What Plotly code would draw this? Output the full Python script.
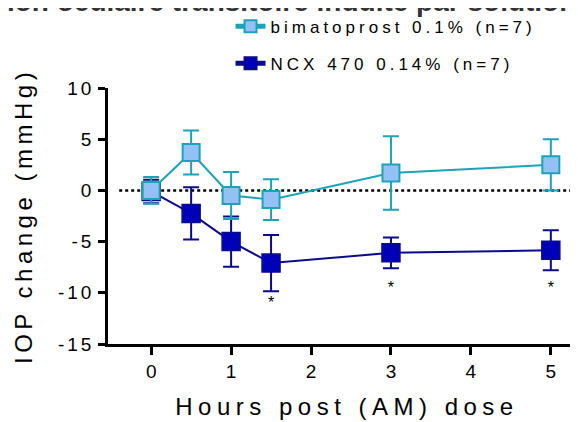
import plotly.graph_objects as go

hours = [0, 0.5, 1, 1.5, 3, 5]
bim_mean = [0.0, 3.7, -0.5, -0.9, 1.7, 2.5]
bim_err = [1.3, 2.15, 2.3, 2.0, 3.6, 2.5]
ncx_mean = [-0.1, -2.25, -5.0, -7.1, -6.1, -5.85]
ncx_err = [1.15, 2.55, 2.45, 2.75, 1.5, 1.95]
sig_x = [1.5, 3, 5]
sig_y = [-11.1, -9.6, -9.6]
x_ticks = [0, 1, 2, 3, 4, 5]
y_ticks = [-15, -10, -5, 0, 5, 10]

FONT = "Liberation Sans, Arial, sans-serif"


def spaced(t, ls):
    return '<span style="letter-spacing:%gpx">%s</span>' % (ls, t)


fig = go.Figure()

fig.add_trace(go.Scatter(
    x=hours, y=ncx_mean, mode="lines+markers",
    name=spaced("NCX 470 0.14% (n=7)", 4), legendrank=2, legendgroup="b",
    line=dict(color="#0a0a8c", width=2),
    marker=dict(symbol="square", size=18, color="#0000b8",
                line=dict(color="#0a0a8c", width=1.5)),
    error_y=dict(type="data", array=ncx_err, visible=True,
                 color="#0a0a8c", thickness=2, width=8),
))
fig.add_trace(go.Scatter(
    x=hours, y=bim_mean, mode="lines+markers",
    name=spaced("bimatoprost 0.1% (n=7)", 4), legendrank=1, legendgroup="a",
    line=dict(color="#1ca3b8", width=2),
    marker=dict(symbol="square", size=17, color="#94c1f5",
                line=dict(color="#1ca3b8", width=2)),
    error_y=dict(type="data", array=bim_err, visible=True,
                 color="#1ca3b8", thickness=2, width=8),
))
fig.add_trace(go.Scatter(
    x=sig_x, y=sig_y, mode="text", text=["*"] * len(sig_x),
    textfont=dict(family=FONT, size=16, color="black"),
    showlegend=False, hoverinfo="skip",
))

fig.add_shape(type="line", xref="x", yref="y", x0=-0.4, x1=5.5, y0=0, y1=0,
              line=dict(color="black", width=2.5, dash="dot"), layer="below")

fig.add_annotation(
    text="<b>Hypertension oculaire transitoire induite par solution saline</b>",
    xref="paper", yref="paper", x=0.333, y=1.0, yshift=69,
    xanchor="center", yanchor="bottom", showarrow=False,
    font=dict(family=FONT, size=28, color="#333333"),
)

fig.add_annotation(
    text=spaced("IOP change (mmHg)", 4.5),
    xref="paper", yref="paper", x=0, xshift=-85, y=0.5,
    xanchor="center", yanchor="middle", textangle=-90, showarrow=False,
    font=dict(family=FONT, size=24, color="black"),
)

fig.update_layout(
    width=578, height=422,
    margin=dict(l=100, r=0, t=80, b=86, autoexpand=False),
    paper_bgcolor="white", plot_bgcolor="white",
    font=dict(family=FONT, size=16, color="black"),
    showlegend=True,
    legend=dict(x=0.385, y=0.912, xref="container", yref="container",
                xanchor="left", yanchor="middle", bgcolor="rgba(0,0,0,0)",
                font=dict(family=FONT, size=17, color="black"),
                traceorder="grouped", itemsizing="constant",
                tracegroupgap=12),
    xaxis=dict(
        range=[-0.54, 5.44], tickvals=x_ticks,
        ticktext=[str(v) for v in x_ticks],
        showgrid=False, zeroline=False, showline=True, linecolor="black",
        linewidth=2.5, ticks="outside", ticklen=8, tickwidth=2.5, tickcolor="black",
        tickfont=dict(family=FONT, size=19),
        title=dict(text=spaced("Hours post (AM) dose", 5.5), standoff=18,
                   font=dict(family=FONT, size=24)),
    ),
    yaxis=dict(
        range=[-15, 10], tickvals=y_ticks,
        ticktext=[spaced(str(v), 3) for v in y_ticks],
        showgrid=False, zeroline=False, showline=True, linecolor="black",
        linewidth=2.5, ticks="outside", ticklen=7, tickwidth=2.5, tickcolor="black",
        tickfont=dict(family=FONT, size=19),
    ),
)

fig.write_html("out.html")
